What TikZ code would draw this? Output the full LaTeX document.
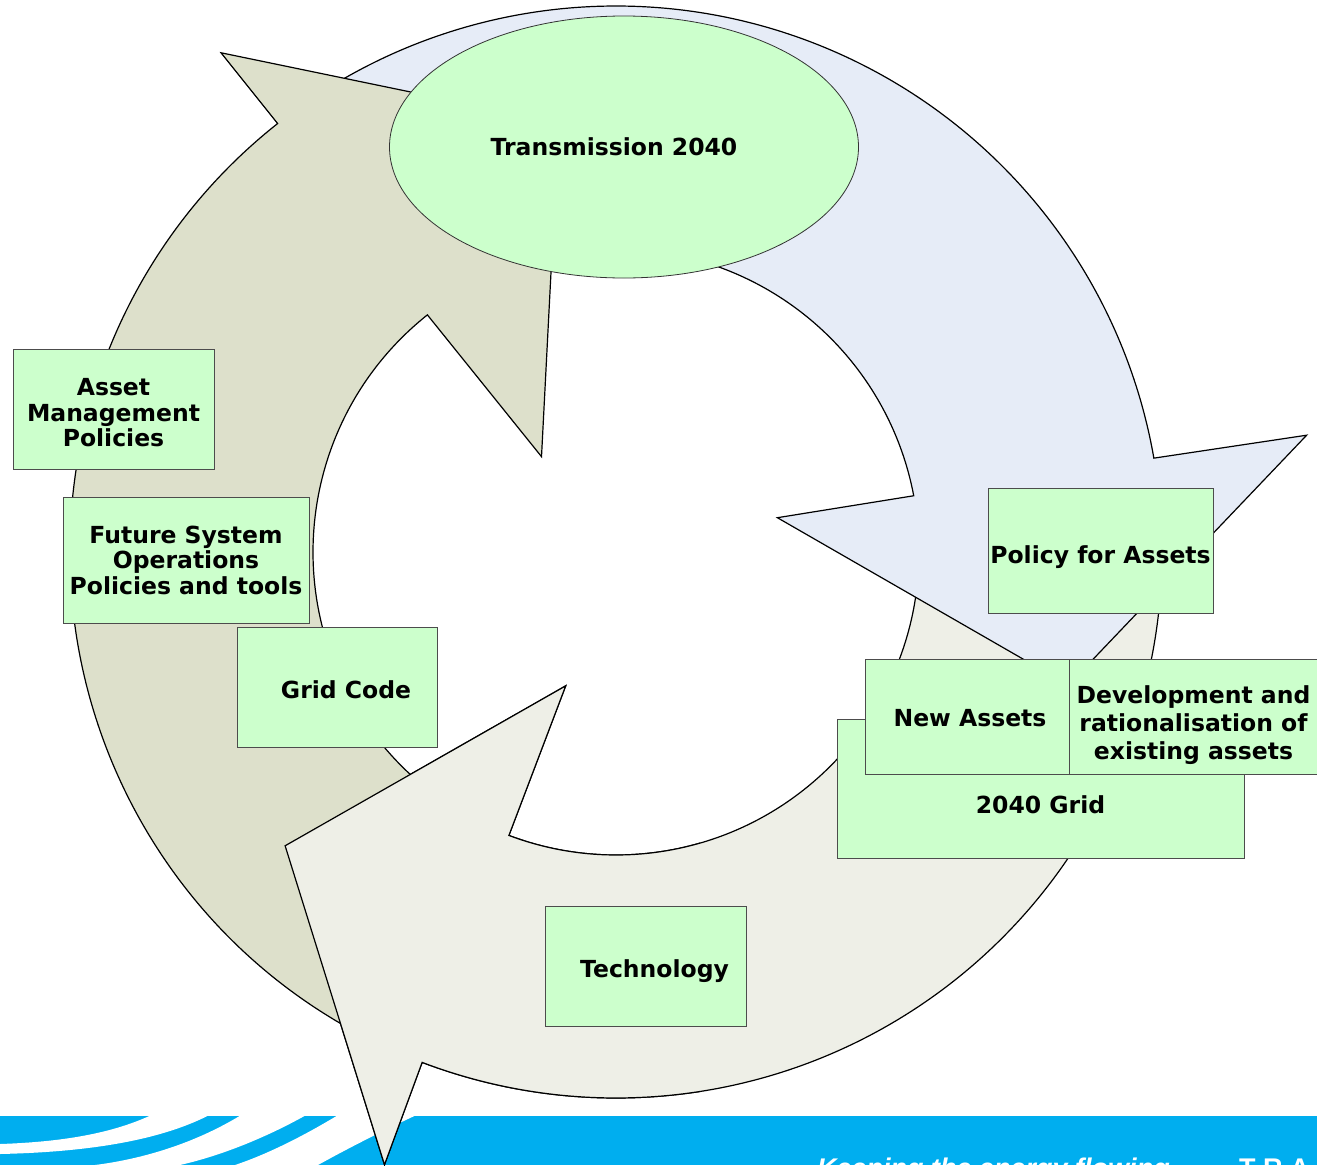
\documentclass[tikz,border=0pt]{standalone}
\usepackage{fontspec}
\setmainfont{DejaVu Sans}
\newfontfamily\bandfont{Liberation Sans}
\usetikzlibrary{shapes.geometric}
\definecolor{olivering}{RGB}{221,224,203}
\definecolor{bluering}{RGB}{230,236,247}
\definecolor{greyring}{RGB}{238,239,231}
\definecolor{boxgreen}{RGB}{204,255,204}
\definecolor{bandblue}{RGB}{0,174,239}
\newcommand{\nudge}[3]{\hspace*{#1}\raisebox{#2}[\height][\depth]{#3}}
\begin{document}
\begin{tikzpicture}[x=1pt, y=-1pt, line join=miter,
		ring/.style={draw=black, line width=1.2pt},
		box/.style={draw=black!70, line width=1pt, fill=boxgreen, inner sep=0pt, align=center, font=\fontsize{23.5}{25.5}\selectfont\bfseries},
		motto/.style={text=white, inner sep=0pt, anchor=base west, font=\bandfont\fontsize{27}{30}\selectfont\bfseries}]
	\useasboundingbox (0,0) rectangle (1317,1165);
	\path
	(616,552) coordinate (C)
	(624,147) coordinate (T);
	
	\fill[bandblue] (0,1115.7) rectangle (1317,1165);
	\fill[white] (208,1115.7) .. controls (160,1140) and (90,1152) .. (0,1154) -- (0,1144) .. controls (60,1142) and (110,1134) .. (150,1115.7) -- cycle
	(305,1115.7) .. controls (265,1138) and (220,1156) .. (180,1165) -- (95,1165) .. controls (150,1158) and (200,1140) .. (240,1115.7) -- cycle
	(415,1115.7) .. controls (380,1132) and (345,1150) .. (318,1165) -- (235,1165) .. controls (265,1155) and (300,1138) .. (337,1115.7) -- cycle;
	\node[motto, font=\bandfont\fontsize{27}{30}\selectfont\bfseries\itshape] (keep) at (817,1177) {Keeping the energy flowing};
	\node[motto] (tra) at (1239,1177) {T R A};
	
	\def\greyarrow{(-4:546) arc[start angle=-4, end angle=110.8, radius=546] -- (110.7:655) -- (138.4:442.5) -- (110.6:143) -- (110.7:303) arc[start angle=110.7, end angle=-4, radius=303] -- cycle}
	\begin{scope}[shift={(C)}]
		\filldraw[ring, fill=greyring] \greyarrow;
		\filldraw[ring, fill=bluering] (236:546) arc[start angle=236, end angle=350.1, radius=546] -- (350.4:700.5) -- (376.4:471.6) -- (348:165) -- (349.3:303) arc[start angle=349.3, end angle=236, radius=303] -- cycle;
		\filldraw[ring, fill=olivering] (115:546) arc[start angle=115, end angle=231.7, radius=546] -- (231.65:636.6) -- (262.4:433.2) -- (232:121) -- (231.5:303) arc[start angle=231.5, end angle=115, radius=303] -- cycle;
		\clip (-616,48) rectangle (84,613);
		\filldraw[ring, fill=greyring] \greyarrow;
	\end{scope}
	
	\node[ellipse, draw=black!80, line width=0.8pt, fill=boxgreen, minimum width=469, minimum height=262, inner sep=0pt, font=\fontsize{23.5}{25.5}\selectfont\bfseries] (trans) at (T) {\nudge{-20pt}{0pt}{Transmission 2040}};
	
	\node[box, minimum width=201, minimum height=120] (amp) at (113.5,409) {\rule{0pt}{25pt}Asset\\Management\\Policies};
	\node[box, minimum width=246, minimum height=126] (fso) at (186,560) {Future System\\Operations\\Policies and tools};
	\node[box, minimum width=200, minimum height=120] (gc) at (337,687) {\nudge{18pt}{-3pt}{Grid Code}};
	\node[box, minimum width=201, minimum height=120] (tech) at (645.5,966) {\nudge{18pt}{-5pt}{Technology}};
	\node[box, minimum width=225, minimum height=125] (pfa) at (1100.5,550.5) {\nudge{0pt}{-7pt}{Policy for Assets}};
	\node[box, minimum width=407, minimum height=139] (grid) at (1040.5,788.5) {\nudge{0pt}{-16pt}{2040 Grid}};
	\node[box, minimum width=204, minimum height=115] (na) at (967,716.5) {\nudge{6pt}{-2pt}{New Assets}};
	\node[box, minimum width=249, minimum height=115, font=\fontsize{23.5}{28}\selectfont\bfseries] (dev) at (1193.5,716.5) {\rule{0pt}{35pt}Development and\\rationalisation of\\existing assets};
\end{tikzpicture}
\end{document}
